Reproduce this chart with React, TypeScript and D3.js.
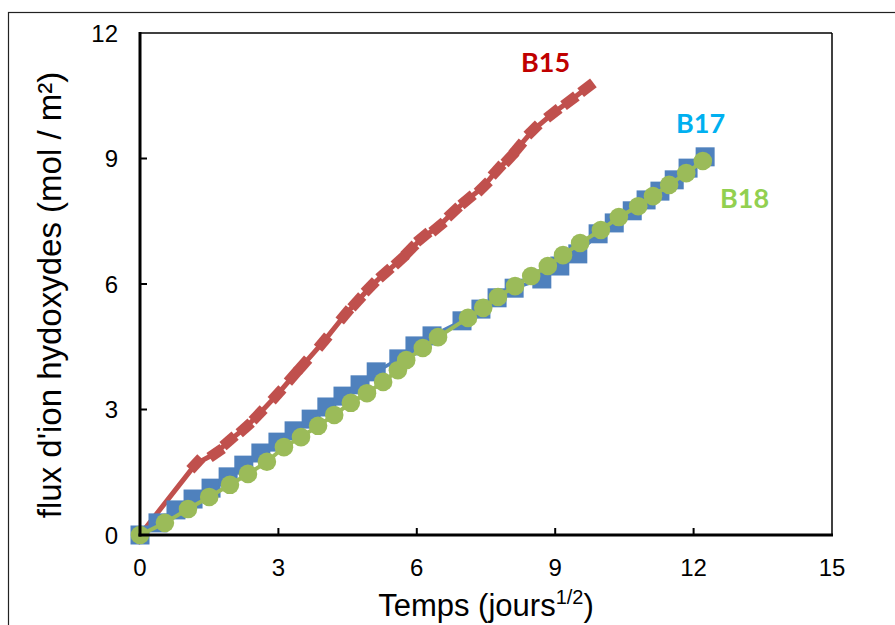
import React from "react";
import * as d3 from "d3";

const xTicks = [0, 3, 6, 9, 12, 15];
const yTicks = [0, 3, 6, 9, 12];

const b15X = [0, 1.21, 1.65, 1.93, 2.28, 2.56, 2.97, 3.32, 3.53, 3.97, 4.44, 4.70, 4.99, 5.31, 5.64, 5.85, 6.13, 6.46, 6.79, 7.09, 7.44, 7.74, 8.02, 8.19, 8.52, 8.95, 9.32, 9.69];
const b15Y = [0, 1.70, 1.96, 2.25, 2.56, 2.87, 3.35, 3.80, 4.06, 4.61, 5.26, 5.57, 5.93, 6.26, 6.57, 6.81, 7.12, 7.36, 7.72, 8.01, 8.32, 8.72, 9.02, 9.25, 9.68, 10.08, 10.38, 10.69];

const b17X = [0, 0.39, 0.78, 1.15, 1.54, 1.91, 2.25, 2.62, 2.99, 3.34, 3.71, 4.05, 4.40, 4.77, 5.12, 5.61, 5.96, 6.33, 6.98, 7.39, 7.74, 8.11, 8.71, 9.10, 9.49, 9.93, 10.28, 10.67, 10.97, 11.27, 11.58, 11.88, 12.25];
const b17Y = [0, 0.29, 0.60, 0.86, 1.12, 1.39, 1.67, 1.96, 2.22, 2.49, 2.77, 3.06, 3.32, 3.59, 3.90, 4.21, 4.52, 4.76, 5.12, 5.40, 5.67, 5.90, 6.12, 6.43, 6.72, 7.20, 7.46, 7.75, 8.01, 8.22, 8.49, 8.77, 9.04];

const b18X = [0, 0.54, 1.04, 1.50, 1.95, 2.34, 2.75, 3.12, 3.49, 3.86, 4.21, 4.57, 4.92, 5.27, 5.59, 5.77, 6.13, 6.46, 7.11, 7.44, 7.76, 8.13, 8.48, 8.84, 9.17, 9.54, 9.99, 10.38, 10.80, 11.12, 11.47, 11.84, 12.20];
const b18Y = [0, 0.29, 0.62, 0.91, 1.20, 1.46, 1.75, 2.10, 2.34, 2.61, 2.87, 3.16, 3.39, 3.66, 3.94, 4.18, 4.47, 4.73, 5.19, 5.43, 5.69, 5.95, 6.19, 6.43, 6.69, 6.98, 7.29, 7.60, 7.86, 8.10, 8.37, 8.65, 8.94];

const seriesNames = ["B15", "B17", "B18"];

const W = 895;
const H = 625;
const L = 140, R = 832, T = 33, B = 535;

export default function App() {
  const x = d3.scaleLinear().domain([0, 15]).range([L, R]);
  const y = d3.scaleLinear().domain([0, 12]).range([B, T]);
  const line = d3.line<[number, number]>().x(d => x(d[0])).y(d => y(d[1]));
  const d15 = b15X.map((v, i) => [v, b15Y[i]] as [number, number]);
  const d17 = b17X.map((v, i) => [v, b17Y[i]] as [number, number]);
  const d18 = b18X.map((v, i) => [v, b18Y[i]] as [number, number]);
  const axisFont = "'Liberation Sans', Arial, sans-serif";
  const labelFont = "Lato, 'Open Sans', sans-serif";

  const angle15 = (i: number) => {
    const a = d15[Math.max(0, i - 1)];
    const b = d15[Math.min(d15.length - 1, i + 1)];
    return (Math.atan2(y(b[1]) - y(a[1]), x(b[0]) - x(a[0])) * 180) / Math.PI;
  };

  return (
    <svg width={W} height={H} style={{ position: "absolute", left: 0, top: 0, background: "#fff" }}>
      <rect x={8.5} y={12.5} width={W + 10} height={H + 10} fill="#fff" stroke="#222" strokeWidth={1.2} />
      {/* plot frame */}
      <line x1={L} x2={R} y1={T} y2={T} stroke="#000" strokeWidth={1.5} />
      <line x1={R} x2={R} y1={T} y2={B} stroke="#000" strokeWidth={1.5} />
      {/* ticks */}
      {xTicks.slice(1, -1).map(t => (
        <line key={"xt" + t} x1={x(t)} x2={x(t)} y1={B} y2={B - 7} stroke="#000" strokeWidth={2} />
      ))}
      {yTicks.slice(1, -1).map(t => (
        <line key={"yt" + t} x1={L} x2={L + 7} y1={y(t)} y2={y(t)} stroke="#000" strokeWidth={2} />
      ))}
      {/* series B15 */}
      <path d={line(d15) || ""} fill="none" stroke="#C0504D" strokeWidth={5} strokeLinejoin="round" />
      {d15.map((p, i) => (
        <rect key={"m15" + i} x={-8} y={-5.5} width={16} height={11}
          transform={`translate(${x(p[0])},${y(p[1])}) rotate(${angle15(i)})`} fill="#C0504D" />
      ))}
      {/* series B17 */}
      <path d={line(d17) || ""} fill="none" stroke="#4F81BD" strokeWidth={3.5} strokeLinejoin="round" />
      {d17.map((p, i) => (
        <rect key={"m17" + i} x={x(p[0]) - 9.5} y={y(p[1]) - 9.5} width={19} height={19} fill="#4F81BD" />
      ))}
      {/* series B18 */}
      <path d={line(d18) || ""} fill="none" stroke="#9BBB59" strokeWidth={4} strokeLinejoin="round" />
      {d18.map((p, i) => (
        <circle key={"m18" + i} cx={x(p[0])} cy={y(p[1])} r={9.3} fill="#9BBB59" />
      ))}
      {/* axes */}
      <line x1={L} x2={L} y1={T - 1} y2={B + 1.5} stroke="#000" strokeWidth={3} />
      <line x1={L - 1.5} x2={R + 1} y1={B} y2={B} stroke="#000" strokeWidth={3} />
      {/* tick labels */}
      {xTicks.map(t => (
        <text key={"xl" + t} x={x(t)} y={576} textAnchor="middle" fontFamily={axisFont} fontSize={24} fill="#000">{t}</text>
      ))}
      {yTicks.map(t => (
        <text key={"yl" + t} x={118} y={y(t) + 8.5} textAnchor="end" fontFamily={axisFont} fontSize={24} fill="#000">{t}</text>
      ))}
      {/* axis titles */}
      <text x={486} y={616} textAnchor="middle" fontFamily={axisFont} fontSize={31} fill="#000">
        Temps (jours<tspan dy={-12} fontSize={20}>1/2</tspan><tspan dy={12}>)</tspan>
      </text>
      <text transform={`translate(61,295) rotate(-90)`} textAnchor="middle" fontFamily={axisFont} fontSize={33} fill="#000">
        flux d'ion hydoxydes (mol / m²)
      </text>
      {/* series labels */}
      <text x={521} y={72} fontFamily={labelFont} fontWeight="bold" fontSize={27} fill="#C00000">{seriesNames[0]}</text>
      <text x={676} y={133} fontFamily={labelFont} fontWeight="bold" fontSize={27} fill="#00B0F0">{seriesNames[1]}</text>
      <text x={720} y={208} fontFamily={labelFont} fontWeight="bold" fontSize={27} fill="#92D050">{seriesNames[2]}</text>
    </svg>
  );
}
